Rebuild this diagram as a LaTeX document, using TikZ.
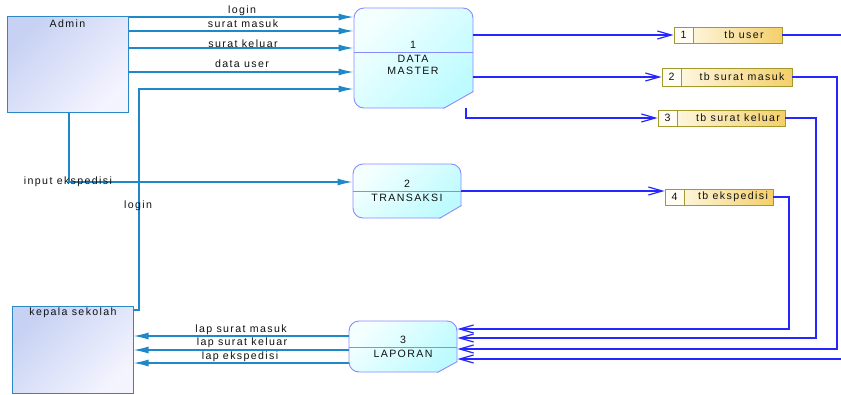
\documentclass[tikz,border=0pt]{standalone}
\usepackage{fontspec}
\setmainfont{Liberation Sans}[LetterSpace=13]
\usetikzlibrary{arrows.meta,calc}
\definecolor{entb}{HTML}{2A88C6}
\definecolor{entA}{HTML}{C6D1F3}
\definecolor{entB}{HTML}{F4F4FF}
\definecolor{flowc}{HTML}{1E88C8}
\definecolor{procb}{HTML}{8A8AFF}
\definecolor{procA}{HTML}{F4FFFF}
\definecolor{procB}{HTML}{BDFBFF}
\definecolor{stb}{HTML}{A39A2B}
\definecolor{stA}{HTML}{FFFDF2}
\definecolor{stB}{HTML}{F4CF6A}
\definecolor{stC}{HTML}{FFFDF4}
\definecolor{blu}{HTML}{2626FF}
\definecolor{txt}{HTML}{111111}
\begin{document}
\begin{tikzpicture}[x=1pt,y=-1pt,
  font=\fontsize{10.6}{11.5}\selectfont,
  ent/.style={draw=entb, line width=1pt, top color=entA, bottom color=entB, shading angle=45, rectangle, inner sep=0pt},
  proc/.style={draw=procb, line width=0.9pt, rounded corners=10pt, top color=procA, bottom color=procB, shading angle=45, inner sep=0pt},
  store/.style={draw=stb, line width=0.9pt, left color=stA, right color=stB, inner sep=0pt},
  stnum/.style={draw=stb, line width=0.9pt, fill=stC, inner sep=0pt, text=txt},
  eflow/.style={draw=flowc, line width=1.3pt, -{Latex[length=15pt,width=7pt]}},
  dflow/.style={draw=blu, line width=1.2pt, -{Straight Barb[length=14pt,width=8pt]}},
  divl/.style={draw=procb, line width=0.9pt},
  lbl/.style={inner sep=0pt, text=txt}
]
\clip (0,0) rectangle (841,394);
\fill[white] (0,0) rectangle (841,394);

% external entities
\node[ent, minimum width=121pt, minimum height=96pt] (admin) at (67.5,64) {};
\node[lbl] (adminT) at (67.5,24) {Admin};
\node[ent, minimum width=121pt, minimum height=87pt] (kepala) at (72.5,349.5) {};
\node[lbl] (kepT) at (73,313) {kepala sekolah};

% processes
\node[proc, minimum width=119pt, minimum height=100pt] (p1) at (413.5,58) {};
\node[proc, minimum width=108pt, minimum height=54pt] (p2) at (407,191) {};
\node[proc, minimum width=108pt, minimum height=51pt] (p3) at (403,346.5) {};

% process dividers and cut corners
\draw[divl] (p1.west |- 0,52) -- (p1.east |- 0,52);
\draw[divl] (p2.west) -- (p2.east);
\draw[divl] (p3.west |- 0,347) -- (p3.east |- 0,347);

\fill[white] ($(p1.south east)+(-30,1.5)$) -- ($(p1.south east)+(1.5,1.5)$) -- ($(p1.south east)+(1.5,-17)$) -- ($(p1.south east)+(0,-17)$) -- ($(p1.south east)+(-30,0)$) -- cycle;
\draw[divl] ($(p1.south east)+(-30,0)$) -- ($(p1.south east)+(0,-17)$);
\fill[white] ($(p2.south east)+(-22,1.5)$) -- ($(p2.south east)+(1.5,1.5)$) -- ($(p2.south east)+(1.5,-13)$) -- ($(p2.south east)+(0,-13)$) -- ($(p2.south east)+(-22,0)$) -- cycle;
\draw[divl] ($(p2.south east)+(-22,0)$) -- ($(p2.south east)+(0,-13)$);
\fill[white] ($(p3.south east)+(-20,1.5)$) -- ($(p3.south east)+(1.5,1.5)$) -- ($(p3.south east)+(1.5,-11)$) -- ($(p3.south east)+(0,-11)$) -- ($(p3.south east)+(-20,0)$) -- cycle;
\draw[divl] ($(p3.south east)+(-20,0)$) -- ($(p3.south east)+(0,-11)$);

\node[lbl] (p1n) at (413,45) {1};
\node[lbl] (p1a) at (413,59) {DATA};
\node[lbl] (p1b) at (413,71) {MASTER};
\node[lbl] (p2n) at (407,184) {2};
\node[lbl] (p2a) at (407,198) {TRANSAKSI};
\node[lbl] (p3n) at (403,340) {3};
\node[lbl] (p3a) at (403,354) {LAPORAN};

% data stores
\node[store, minimum width=108pt, minimum height=16pt] (s1) at (728,35) {};
\node[stnum, minimum width=19pt, minimum height=16pt, anchor=west] (s1n) at (s1.west) {1};
\node[lbl] (s1t) at (744,35) {tb user};
\node[store, minimum width=130pt, minimum height=18pt] (s2) at (727,77) {};
\node[stnum, minimum width=19pt, minimum height=18pt, anchor=west] (s2n) at (s2.west) {2};
\node[lbl] (s2t) at (742,77) {tb surat masuk};
\node[store, minimum width=127pt, minimum height=16pt] (s3) at (721.5,118) {};
\node[stnum, minimum width=19pt, minimum height=16pt, anchor=west] (s3n) at (s3.west) {3};
\node[lbl] (s3t) at (738,118) {tb surat keluar};
\node[store, minimum width=108pt, minimum height=16pt] (s4) at (719,197) {};
\node[stnum, minimum width=19pt, minimum height=16pt, anchor=west] (s4n) at (s4.west) {4};
\node[lbl] (s4t) at (733,197) {tb ekspedisi};

% admin flows
\draw[eflow] (admin.east |- 0,17) -- (p1.west |- 0,17);
\draw[eflow] (admin.east |- 0,31) -- (p1.west |- 0,31);
\draw[eflow] (admin.east |- 0,48) -- (p1.west |- 0,48);
\draw[eflow] (admin.east |- 0,72) -- (p1.west |- 0,72);
\node[lbl] (l1) at (242,11) {login};
\node[lbl] (l2) at (243,24) {surat masuk};
\node[lbl] (l3) at (243,44) {surat keluar};
\node[lbl] (l4) at (242,64) {data user};

\draw[eflow] (admin.south -| 69,0) -- (69,182) -- (p2.west |- 0,182);
\node[lbl] (l5) at (68,182) {input ekspedisi};
\draw[eflow] (kepala.east |- 0,310) -- (139,310) -- (139,89) -- (p1.west |- 0,89);
\node[lbl] (l6) at (138,206) {login};

% report flows
\draw[eflow] (p3.west |- 0,336) -- (kepala.east |- 0,336);
\draw[eflow] (p3.west |- 0,350) -- (kepala.east |- 0,350);
\draw[eflow] (p3.west |- 0,363) -- (kepala.east |- 0,363);
\node[lbl] (l7) at (241,330) {lap surat masuk};
\node[lbl] (l8) at (242,343) {lap surat keluar};
\node[lbl] (l9) at (240,357) {lap ekspedisi};

% data flows to stores
\draw[dflow] (p1.east |- s1.west) -- (s1.west);
\draw[dflow] (p1.east |- s2.west) -- (s2.west);
\draw[dflow] (466,108) -- (466,118) -- (s3.west);
\draw[dflow] (p2.east) -- (p2.east -| s4.west);

% data flows from stores to report
\draw[dflow] (s4.east) -- (789,197) -- (789,329) -- (p3.east |- 0,329);
\draw[dflow] (s3.east) -- (816,118) -- (816,338) -- (p3.east |- 0,338);
\draw[dflow] (s2.east) -- (837,77) -- (837,349) -- (p3.east |- 0,349);
\draw[dflow] (s1.east) -- (852,35) -- (852,359) -- (p3.east |- 0,359);
\end{tikzpicture}
\end{document}
